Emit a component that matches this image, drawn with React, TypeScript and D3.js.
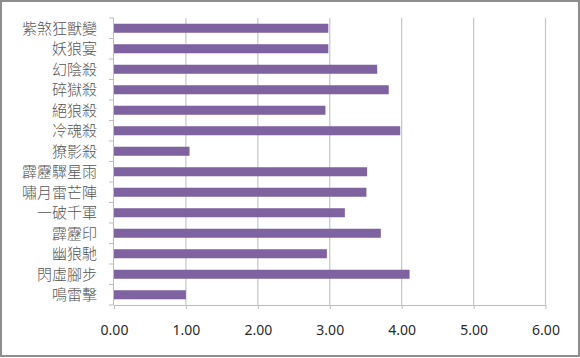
import { useEffect, useRef } from "react";
import * as d3 from "d3";

const skills = [
  "紫煞狂獸變",
  "妖狼宴",
  "幻陰殺",
  "碎獄殺",
  "絕狼殺",
  "冷魂殺",
  "獠影殺",
  "霹靂驟星雨",
  "嘯月雷芒陣",
  "一破千軍",
  "霹靂印",
  "幽狼馳",
  "閃虛腳步",
  "鳴雷擊",
];
const values = [2.98, 2.98, 3.66, 3.82, 2.94, 3.98, 1.05, 3.52, 3.51, 3.21, 3.71, 2.96, 4.11, 1.0];
const xTicks = [0, 1, 2, 3, 4, 5, 6];

const App = () => {
  const svgRef = useRef<SVGSVGElement>(null);

  useEffect(() => {
    const width = 580;
    const height = 358;
    const left = 114;
    const right = 545.5;
    const top = 18;
    const bottom = 305;

    const svg = d3.select(svgRef.current);
    svg.selectAll("*").remove();

    svg
      .append("rect")
      .attr("x", 1)
      .attr("y", 1)
      .attr("width", width - 2)
      .attr("height", height - 3)
      .attr("fill", "#fff")
      .attr("stroke", "#8e8e8e")
      .attr("stroke-width", 2);

    const x = d3.scaleLinear().domain([0, 6]).range([left, right]);
    const y = d3.scaleBand().domain(skills).range([top, bottom]).paddingInner(0.56).paddingOuter(0.28);

    // vertical gridlines
    svg
      .append("g")
      .selectAll("line")
      .data(xTicks.slice(1))
      .join("line")
      .attr("x1", (d) => x(d))
      .attr("x2", (d) => x(d))
      .attr("y1", top)
      .attr("y2", bottom)
      .attr("stroke", "#c6c6c6")
      .attr("stroke-width", 1.2);

    // bars
    svg
      .append("g")
      .selectAll("rect")
      .data(values)
      .join("rect")
      .attr("x", x(0))
      .attr("y", (_, i) => y(skills[i])!)
      .attr("width", (d) => x(d) - x(0))
      .attr("height", y.bandwidth())
      .attr("fill", "#7f63a1");

    // x axis
    const xAxis = svg
      .append("g")
      .attr("transform", `translate(0, ${bottom})`)
      .call(
        d3
          .axisBottom(x)
          .tickValues(xTicks)
          .tickFormat((d) => d3.format(".2f")(d as number))
          .tickSize(4)
          .tickPadding(16)
      );
    xAxis.select(".domain").attr("stroke", "#bdbdbd").attr("d", `M${x(0)},0.5H${x(6)}`);
    xAxis.selectAll(".tick line").attr("stroke", "#bdbdbd");
    xAxis
      .selectAll("text")
      .attr("fill", "#2a2a2a")
      .attr("font-size", 14)
      .attr("font-family", "'Noto Sans', sans-serif");

    // y axis: ticks at band boundaries
    const bandStep = (bottom - top) / skills.length;
    const yAxis = svg.append("g");
    yAxis
      .append("line")
      .attr("x1", left - 0.5)
      .attr("x2", left - 0.5)
      .attr("y1", top)
      .attr("y2", bottom)
      .attr("stroke", "#bdbdbd");
    yAxis
      .selectAll("line.tk")
      .data(d3.range(skills.length + 1))
      .join("line")
      .attr("class", "tk")
      .attr("x1", left - 5)
      .attr("x2", left)
      .attr("y1", (i) => top + i * bandStep)
      .attr("y2", (i) => top + i * bandStep)
      .attr("stroke", "#bdbdbd");
    yAxis
      .selectAll("text")
      .data(skills)
      .join("text")
      .attr("x", 97)
      .attr("y", (d) => y(d)! + y.bandwidth() / 2)
      .attr("dy", "0.36em")
      .attr("text-anchor", "end")
      .attr("fill", "#555")
      .attr("font-size", 15)
      .attr("font-weight", 300)
      .attr("font-family", "'Noto Sans CJK TC', sans-serif")
      .text((d) => d);
  }, []);

  return (
    <svg
      ref={svgRef}
      width={580}
      height={358}
      style={{ position: "absolute", left: 0, top: 0 }}
    />
  );
};

export default App;
